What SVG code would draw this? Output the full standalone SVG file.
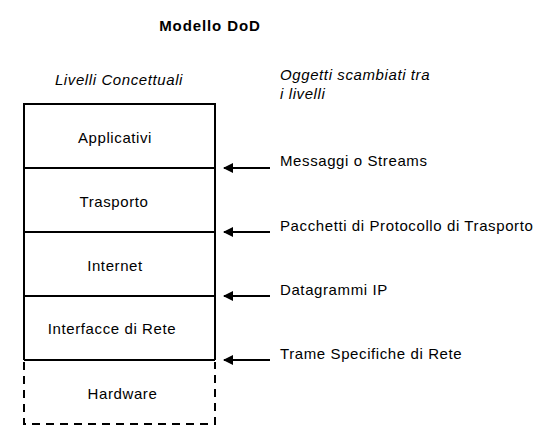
<svg xmlns="http://www.w3.org/2000/svg" width="549" height="442" viewBox="0 0 549 442">
<defs>
<style>
text{font-family:"Liberation Sans",Arial,sans-serif;font-size:15px;letter-spacing:0.6px;fill:#000}
.c{text-anchor:middle}
.i{font-style:italic}
.b{font-weight:bold;letter-spacing:0.9px}
.box{fill:none;stroke:#000;stroke-width:2}
.dash{fill:none;stroke:#000;stroke-width:2;stroke-dasharray:8,6}
.conn{stroke:#000;stroke-width:2;fill:none;marker-end:url(#ah)}
</style>
<marker id="ah" viewBox="0 0 10 10" refX="9" refY="5" markerWidth="5" markerHeight="5" orient="auto" markerUnits="strokeWidth">
<path d="M0,0 L10,5 L0,10 z" fill="#000"/>
</marker>
</defs>
<rect width="549" height="442" fill="#fff"/>
<text x="210" y="31" class="c b">Modello DoD</text>
<text x="119" y="85" class="c i">Livelli Concettuali</text>
<text x="280" y="80" class="i">Oggetti scambiati tra</text>
<text x="280" y="99" class="i">i livelli</text>
<g id="applicativi">
<path class="box" d="M24,168 V104 H215 V168"/>
<text x="115" y="143" class="c">Applicativi</text>
</g>
<g id="trasporto">
<path class="box" d="M24,168 H215 M24,168 V232 M215,168 V232"/>
<text x="114" y="207" class="c">Trasporto</text>
</g>
<g id="internet">
<path class="box" d="M24,232 H215 M24,232 V296 M215,232 V296"/>
<text x="115" y="271" class="c">Internet</text>
</g>
<g id="interfacce">
<path class="box" d="M24,296 H215 M24,296 V360 M215,296 V360 M24,360 H215"/>
<text x="112" y="334" class="c">Interfacce di Rete</text>
</g>
<g id="hardware">
<path class="dash" d="M24,362 V424 H215 V362"/>
<text x="122.5" y="399" class="c">Hardware</text>
</g>
<g id="connectors">
<line class="conn" x1="270" y1="168" x2="224" y2="168"/>
<line class="conn" x1="270" y1="232" x2="224" y2="232"/>
<line class="conn" x1="270" y1="296" x2="224" y2="296"/>
<line class="conn" x1="270" y1="360" x2="224" y2="360"/>
</g>
<g id="labels">
<text x="280" y="166">Messaggi o Streams</text>
<text x="280" y="231">Pacchetti di Protocollo di Trasporto</text>
<text x="280" y="295">Datagrammi IP</text>
<text x="280" y="359">Trame Specifiche di Rete</text>
</g>
</svg>
